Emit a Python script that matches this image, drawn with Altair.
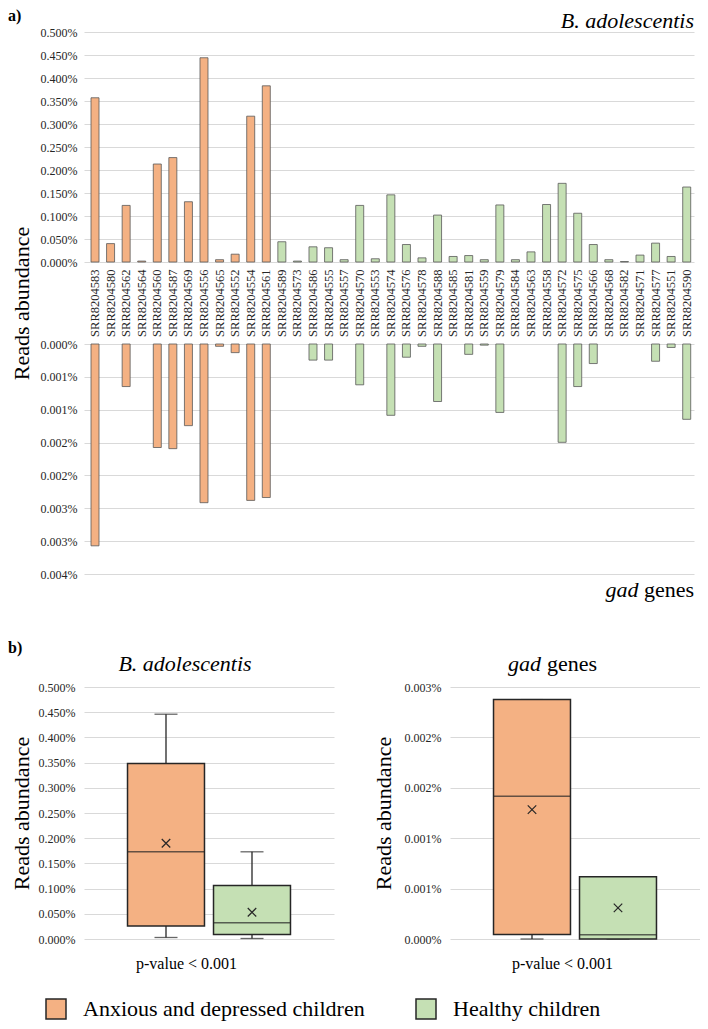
import altair as alt
import pandas as pd

# ---------------- data ----------------
samples = [
    "SRR8204583", "SRR8204580", "SRR8204562", "SRR8204564", "SRR8204560", "SRR8204587",
    "SRR8204569", "SRR8204556", "SRR8204565", "SRR8204552", "SRR8204554", "SRR8204561",
    "SRR8204589", "SRR8204573", "SRR8204586", "SRR8204555", "SRR8204557", "SRR8204570",
    "SRR8204553", "SRR8204574", "SRR8204576", "SRR8204578", "SRR8204588", "SRR8204585",
    "SRR8204581", "SRR8204559", "SRR8204579", "SRR8204584", "SRR8204563", "SRR8204558",
    "SRR8204572", "SRR8204575", "SRR8204566", "SRR8204568", "SRR8204582", "SRR8204571",
    "SRR8204577", "SRR8204551", "SRR8204590",
]
group_names = ["Anxious and depressed children", "Healthy children"]
n_anxious = 12
n_healthy = 27
groups = [group_names[0]] * n_anxious + [group_names[1]] * n_healthy

# B. adolescentis reads abundance (%)
b_adolescentis = [
    0.357, 0.040, 0.123, 0.002, 0.213, 0.227, 0.131, 0.444, 0.005, 0.017, 0.317, 0.383,
    0.044, 0.002, 0.033, 0.031, 0.005, 0.123, 0.007, 0.146, 0.038, 0.009, 0.102, 0.012,
    0.014, 0.005, 0.124, 0.005, 0.022, 0.125, 0.171, 0.106, 0.038, 0.005, 0.001, 0.015,
    0.041, 0.012, 0.163,
]
# gad genes reads abundance (%)
gad_genes = [
    0.00351, 0.0, 0.00074, 0.0, 0.00180, 0.00182, 0.00142, 0.00276, 0.00004, 0.00015, 0.00272, 0.00267,
    0.0, 0.0, 0.00028, 0.00028, 0.0, 0.00071, 0.0, 0.00124, 0.00023, 0.00004, 0.00100, 0.0,
    0.00018, 0.00002, 0.00119, 0.0, 0.0, 0.0, 0.00171, 0.00074, 0.00034, 0.0, 0.0, 0.0,
    0.00030, 0.00006, 0.00131,
]

top_ticks = [0.0, 0.05, 0.1, 0.15, 0.2, 0.25, 0.3, 0.35, 0.4, 0.45, 0.5]
bottom_ticks = [0.0, 0.000571, 0.001143, 0.001714, 0.002286, 0.002857, 0.003429, 0.004]
box_bad_ticks = [0.0, 0.05, 0.1, 0.15, 0.2, 0.25, 0.3, 0.35, 0.4, 0.45, 0.5]
box_gad_ticks = [0.0, 0.0006, 0.0012, 0.0018, 0.0024, 0.003]

# box-plot statistics (%), per group
bad_min = [0.003, 0.001]
bad_q1 = [0.026, 0.009]
bad_median = [0.173, 0.032]
bad_q3 = [0.348, 0.106]
bad_max = [0.446, 0.173]
bad_mean = [0.190, 0.053]

gad_min = [0.0, 0.0]
gad_q1 = [0.000055, 0.0]
gad_median = [0.0017, 0.00005]
gad_q3 = [0.00285, 0.00074]
gad_max = [0.00285, 0.00074]
gad_mean = [0.00154, 0.00037]

# ---------------- style ----------------
ORANGE = "#F4B183"
GREEN = "#C5E0B4"
DARK = "#262626"
BAR_STROKE = "#595959"
FONT = "Liberation Serif"
PCT = "format(datum.value, '.3f') + '%'"

color_scale = alt.Scale(domain=group_names, range=[ORANGE, GREEN])
legend = alt.Legend(
    orient="none", legendX=-39, legendY=966, direction="horizontal", title=None,
    symbolType="square", symbolSize=400, symbolStrokeColor=DARK, symbolStrokeWidth=1.5,
    labelFontSize=22, labelFont=FONT, labelColor="#000000", labelOffset=16,
    columnPadding=48, labelLimit=500, padding=0,
)
color = alt.Color("group:N", scale=color_scale, legend=legend)

bars = pd.DataFrame({"sample": samples, "group": groups, "bad": b_adolescentis, "gad": gad_genes})
x_scale = alt.Scale(domain=samples, paddingInner=0.4862, paddingOuter=0.3306, align=0.68)

AX = dict(labelFont=FONT, titleFont=FONT, labelColor=DARK, titleColor="#000000",
          titleFontWeight="normal", domain=False, ticks=False)


def text_layer(txt, x, y, size, align="left", style="normal", weight="normal"):
    return alt.Chart(pd.DataFrame({"t": [txt]})).mark_text(
        align=align, baseline="middle", fontSize=size, font=FONT,
        fontStyle=style, fontWeight=weight, color="#000000",
    ).encode(text="t:N", x=alt.value(x), y=alt.value(y))


# ---------------- panel a ----------------
top_bars = alt.Chart(bars).mark_bar(stroke=BAR_STROKE, strokeWidth=0.8).encode(
    x=alt.X("sample:N", scale=x_scale, axis=alt.Axis(
        title=None, labelAngle=-90, labelFontSize=12.5, labelPadding=7, grid=False, **AX)),
    y=alt.Y("bad:Q", scale=alt.Scale(domain=[0, 0.5], nice=False), axis=alt.Axis(
        values=top_ticks, labelExpr=PCT, labelFontSize=12, labelPadding=7, title="Reads abundance",
        titleFontSize=22, titleX=-63, titleY=271, titleBaseline="middle", titleAngle=-90, **AX)),
    color=color,
)
top = alt.layer(
    top_bars,
    text_layer("a)", -76, -16, 16, weight="bold"),
    text_layer("B. adolescentis", 610, -11, 22, align="right", style="italic"),
).properties(width=610, height=230)

bottom_bars = alt.Chart(bars).transform_filter("datum.gad > 0").mark_bar(
    stroke=BAR_STROKE, strokeWidth=0.8).encode(
    x=alt.X("sample:N", scale=x_scale, axis=None),
    y=alt.Y("gad:Q", scale=alt.Scale(domain=[0, 0.004], nice=False, reverse=True), axis=alt.Axis(
        values=bottom_ticks, labelExpr=PCT, labelFontSize=12, labelPadding=7, title=None, **AX)),
    color=color,
)
bottom = alt.layer(
    bottom_bars,
    text_layer("gad", 554.5, 246, 22, align="right", style="italic"),
    text_layer("genes", 610, 246, 22, align="right"),
).properties(width=610, height=230)

panel_a = alt.vconcat(top, bottom, spacing=82, bounds="flush")


# ---------------- panel b ----------------
def box_panel(stats, ymax, ticks, ytitle_x, pval_x, extra_layers):
    df = pd.DataFrame(stats)
    xs = alt.Scale(domain=group_names, paddingInner=0.105, paddingOuter=0.506)
    xax = alt.Axis(labels=False, grid=False, title="p-value < 0.001", titleFontSize=16,
                   titleX=pval_x, titleY=24, titleBaseline="middle", titleAlign="center", **AX)
    ys = alt.Scale(domain=[0, ymax], nice=False)
    yax = alt.Axis(values=ticks, labelExpr=PCT, labelFontSize=12, labelPadding=9,
                   title="Reads abundance", titleFontSize=22, titleX=ytitle_x, titleY=126,
                   titleBaseline="middle", titleAngle=-90, **AX)
    X = alt.X("group:N", scale=xs, axis=xax)
    base = alt.Chart(df)
    lower = base.mark_rule(color=DARK, strokeWidth=1.3).encode(
        x=X, y=alt.Y("lo:Q", scale=ys, axis=yax), y2="q1:Q")
    upper = base.mark_rule(color=DARK, strokeWidth=1.3).encode(
        x=X, y=alt.Y("q3:Q", scale=ys, axis=yax), y2="hi:Q")
    cap_lo = base.mark_tick(color=DARK, size=23, thickness=1.3).encode(
        x=X, y=alt.Y("lo:Q", scale=ys, axis=yax))
    cap_hi = base.mark_tick(color=DARK, size=23, thickness=1.3).encode(
        x=X, y=alt.Y("hi:Q", scale=ys, axis=yax))
    box = base.mark_bar(stroke=DARK, strokeWidth=1.5).encode(
        x=X, y=alt.Y("q1:Q", scale=ys, axis=yax), y2="q3:Q", color=color)
    med = base.mark_tick(color=DARK, size=77, thickness=1.5).encode(
        x=X, y=alt.Y("med:Q", scale=ys, axis=yax))
    mean = base.mark_point(shape="M-1,-1L1,1M-1,1L1,-1", size=72, color=DARK,
                           strokeWidth=1.2, filled=False, opacity=1).encode(
        x=X, y=alt.Y("mean:Q", scale=ys, axis=yax))
    return alt.layer(lower, upper, cap_lo, cap_hi, box, med, mean, *extra_layers).properties(
        width=250, height=252)


box_bad = box_panel(
    {"group": group_names, "lo": bad_min, "q1": bad_q1, "med": bad_median,
     "q3": bad_q3, "hi": bad_max, "mean": bad_mean},
    0.5, box_bad_ticks, -63, 102,
    [text_layer("b)", -76, -39, 16, weight="bold"),
     text_layer("B. adolescentis", 101, -23, 22, align="center", style="italic")],
)
box_gad = box_panel(
    {"group": group_names, "lo": gad_min, "q1": gad_q1, "med": gad_median,
     "q3": gad_q3, "hi": gad_max, "mean": gad_mean},
    0.003, box_gad_ticks, -67, 112,
    [text_layer("gad", 58, -23, 22, style="italic"),
     text_layer("genes", 97, -23, 22)],
)
panel_b = alt.hconcat(box_bad, box_gad, spacing=116, bounds="flush")

chart = alt.vconcat(panel_a, panel_b, spacing=39).properties(
    padding=0
).configure(font=FONT).configure_view(stroke=None).configure_axis(
    labelFont=FONT, titleFont=FONT, gridColor="#D9D9D9", gridWidth=1,
).configure_legend(labelFont=FONT)

chart.save("out.html", embed_options={"renderer": "svg", "actions": False})
